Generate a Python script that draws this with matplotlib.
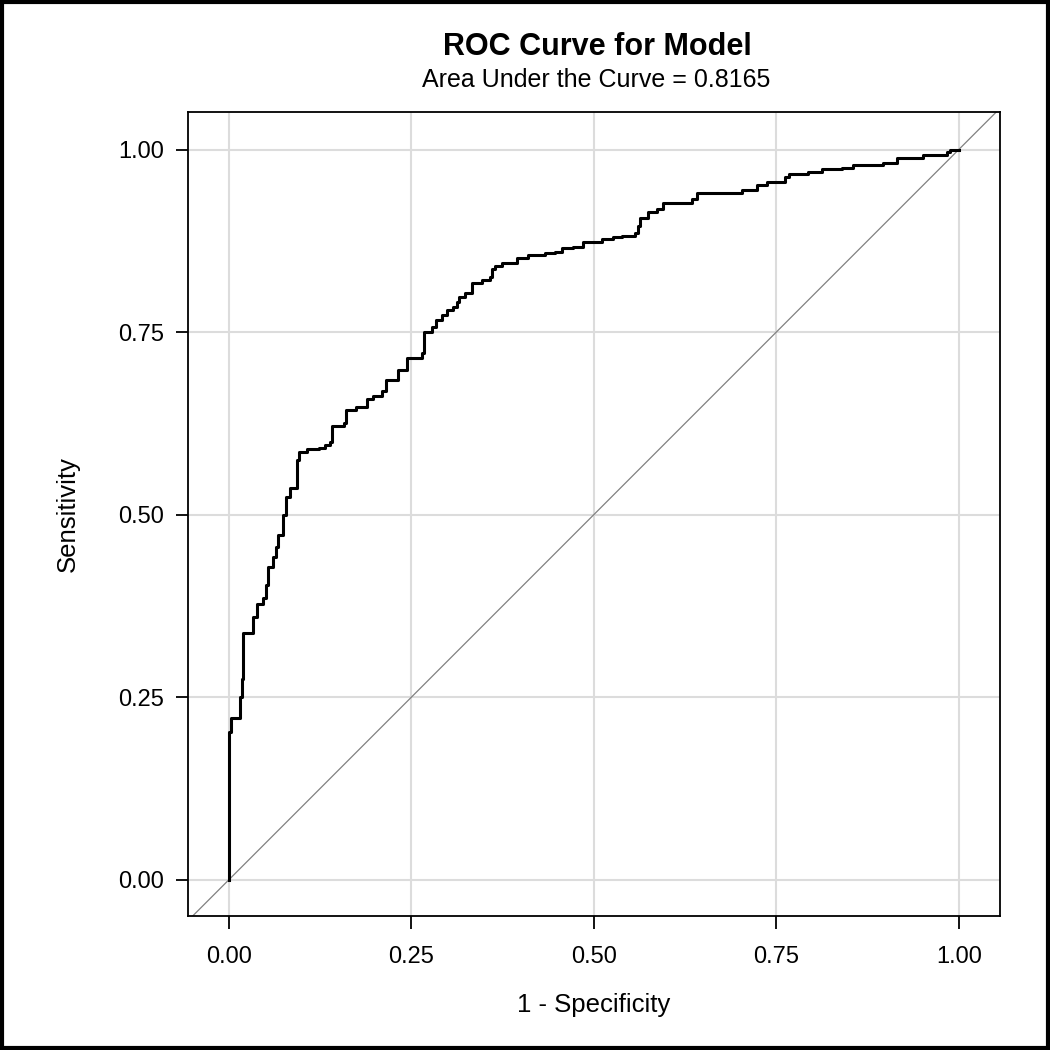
import numpy as np
import matplotlib
matplotlib.use("Agg")
from matplotlib import pyplot as plt
from matplotlib.patches import Rectangle

plt.rcParams['font.family'] = ['Liberation Sans', 'DejaVu Sans']

# ROC step corners (1 - specificity, sensitivity)
fpr = [0.000, 0.000, 0.003, 0.015, 0.018, 0.019, 0.033, 0.038, 0.047, 0.051,
       0.053, 0.060, 0.064, 0.068, 0.074, 0.079, 0.084, 0.093, 0.096, 0.107,
       0.123, 0.132, 0.138, 0.142, 0.158, 0.160, 0.174, 0.189, 0.197, 0.210,
       0.216, 0.232, 0.244, 0.264, 0.268, 0.279, 0.284, 0.292, 0.299, 0.307,
       0.312, 0.316, 0.323, 0.333, 0.347, 0.358, 0.360, 0.364, 0.374, 0.395,
       0.410, 0.433, 0.447, 0.456, 0.471, 0.485, 0.511, 0.526, 0.538, 0.556,
       0.560, 0.563, 0.574, 0.586, 0.595, 0.634, 0.641, 0.703, 0.723, 0.737,
       0.762, 0.768, 0.793, 0.812, 0.840, 0.855, 0.896, 0.916, 0.951, 0.984,
       0.988, 1.000]
tpr = [0.000, 0.202, 0.222, 0.250, 0.275, 0.338, 0.360, 0.378, 0.386, 0.404,
       0.428, 0.442, 0.456, 0.472, 0.499, 0.524, 0.536, 0.575, 0.586, 0.590,
       0.591, 0.595, 0.599, 0.622, 0.625, 0.643, 0.647, 0.659, 0.663, 0.670,
       0.684, 0.698, 0.714, 0.721, 0.750, 0.757, 0.766, 0.773, 0.780, 0.784,
       0.791, 0.798, 0.804, 0.817, 0.822, 0.826, 0.837, 0.840, 0.845, 0.851,
       0.855, 0.858, 0.860, 0.865, 0.867, 0.873, 0.877, 0.880, 0.882, 0.886,
       0.896, 0.906, 0.914, 0.919, 0.927, 0.933, 0.940, 0.945, 0.951, 0.956,
       0.962, 0.967, 0.969, 0.973, 0.975, 0.979, 0.982, 0.988, 0.993, 0.997,
       1.000, 1.000]
ticks = [0.0, 0.25, 0.5, 0.75, 1.0]
tick_labels = ["0.00", "0.25", "0.50", "0.75", "1.00"]
auc = 0.8165

fig = plt.figure(figsize=(10.5, 10.5), dpi=100)
ax = fig.add_axes([0.179, 0.128, 0.773, 0.765])

ax.set_xlim(-0.056, 1.056)
ax.set_ylim(-0.049, 1.051)
ax.grid(True, color="#dcdcdc", linewidth=1.5)
ax.set_axisbelow(True)

# chance line across the whole frame
ax.plot([-0.1, 1.1], [-0.1, 1.1], color="#808080", linewidth=0.9)
ax.plot(fpr, tpr, color="black", linewidth=2.2, drawstyle="steps-post")

ax.set_xticks(ticks)
ax.set_xticklabels(tick_labels)
ax.set_yticks(ticks)
ax.set_yticklabels(tick_labels)
ax.tick_params(labelsize=17, length=9, width=1.3)
ax.tick_params(axis="x", pad=13)
ax.tick_params(axis="y", pad=8)
for s in ax.spines.values():
    s.set_linewidth(1.3)

ax.set_xlabel("1 - Specificity", fontsize=18.5, labelpad=18)
ax.set_ylabel("Sensitivity", fontsize=18.5, labelpad=28)

fig.text(0.569, 0.955, "ROC Curve for Model", ha="center", va="center",
         fontsize=22, fontweight="bold")
fig.text(0.568, 0.924, "Area Under the Curve = %.4f" % auc, ha="center",
         va="center", fontsize=18)

fig.patches.append(Rectangle((0.002, 0.002), 0.996, 0.996, transform=fig.transFigure,
                             fill=False, edgecolor="black", linewidth=3))

fig.savefig("out.png", dpi=100)
